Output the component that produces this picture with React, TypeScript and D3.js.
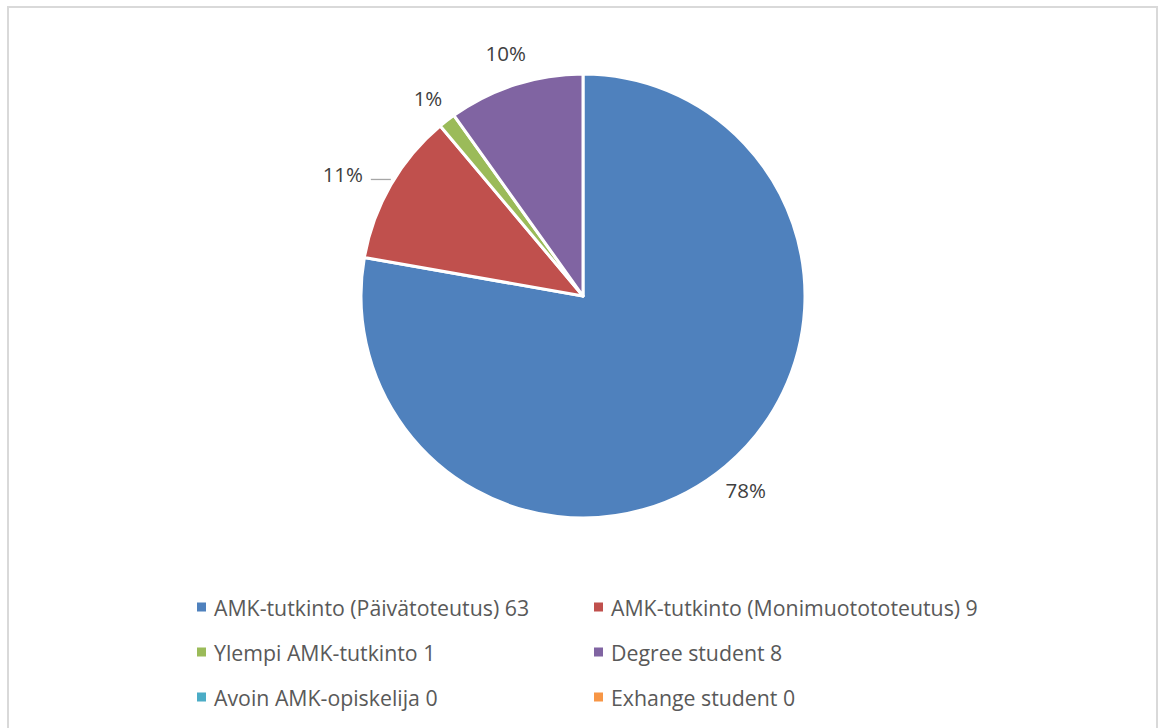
import React from "react";
import * as d3 from "d3";

// data
const categories = [
  "AMK-tutkinto (Päivätoteutus)",
  "AMK-tutkinto (Monimuotototeutus)",
  "Ylempi AMK-tutkinto",
  "Degree student",
  "Avoin AMK-opiskelija",
  "Exhange student",
];
const counts = [63, 9, 1, 8, 0, 0];
const colors = ["#4F81BD", "#C0504D", "#9BBB59", "#8064A2", "#4BACC6", "#F79646"];

const W = 1163;
const H = 728;
const cx = 583;
const cy = 296;
const r = 222;
const font = "'Open Sans', 'Noto Sans', sans-serif";

const App = () => {
  const total = d3.sum(counts);
  const pie = d3.pie<number>().sort(null).value((d) => d);
  const arcs = pie(counts);
  const arc = d3.arc<d3.PieArcDatum<number>>().innerRadius(0).outerRadius(r);
  const labelArc = d3.arc<d3.PieArcDatum<number>>().innerRadius(r * 1.14).outerRadius(r * 1.14);

  return (
    <svg width={W} height={H} style={{ display: "block", position: "absolute", left: 0, top: 0 }}>
      <rect x={0} y={0} width={W} height={H} fill="#fff" />
      <rect x={8} y={7} width={1149} height={730} fill="none" stroke="#d9d9d9" strokeWidth={2} />
      <g transform={`translate(${cx},${cy})`}>
        {arcs.map((a, i) =>
          a.value > 0 ? (
            <path key={i} d={arc(a) || ""} fill={colors[i]} stroke="#fff" strokeWidth={3} strokeLinejoin="round" />
          ) : null
        )}
        {arcs.map((a, i) => {
          if (a.value <= 0) return null;
          const pct = `${Math.round((a.value / total) * 100)}%`;
          let [x, y] = labelArc.centroid(a);
          if (i === 1) {
            // pushed-out label with leader line
            x -= 21;
            y += 5;
            return (
              <g key={i}>
                <line x1={x + 28} x2={x + 48} y1={y + 5} y2={y + 5} stroke="#a6a6a6" strokeWidth={1.3} />
                <text x={x} y={y} fill="#404040" fontFamily={font} fontSize={20.5} textAnchor="middle" dominantBaseline="central">
                  {pct}
                </text>
              </g>
            );
          }
          if (i === 3) y -= 2;
          if (i === 2) y += 2;
          return (
            <text key={i} x={x} y={y} fill="#404040" fontFamily={font} fontSize={20.5} textAnchor="middle" dominantBaseline="central">
              {pct}
            </text>
          );
        })}
      </g>
      <g>
        {categories.map((c, i) => {
          const col = i % 2;
          const row = Math.floor(i / 2);
          const x = col === 0 ? 197 : 594;
          const y = 607 + row * 45;
          return (
            <g key={c} transform={`translate(${x},${y})`}>
              <rect x={0} y={-4.5} width={9} height={9} fill={colors[i]} />
              <text x={17} y={0} fill="#595959" fontFamily={font} fontSize={21.3} dominantBaseline="central">
                {`${c} ${counts[i]}`}
              </text>
            </g>
          );
        })}
      </g>
    </svg>
  );
};

export default App;
